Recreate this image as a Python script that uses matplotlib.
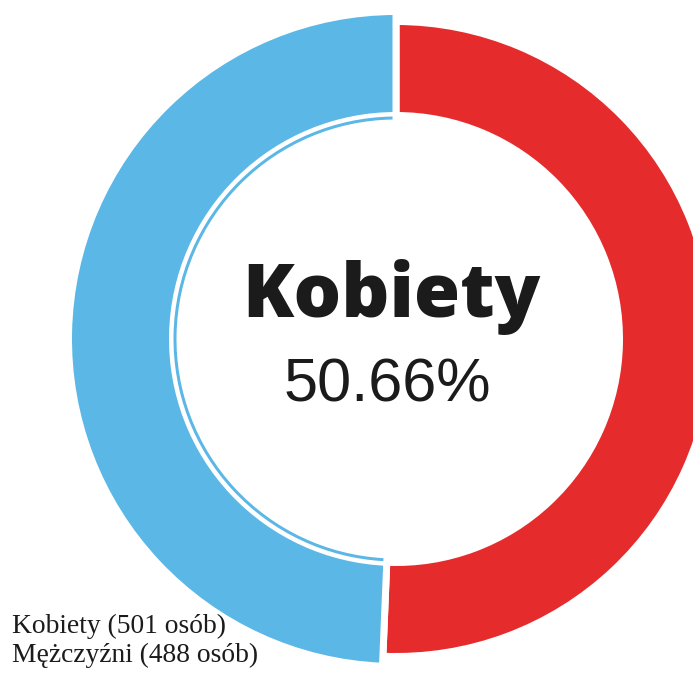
import matplotlib
matplotlib.use('Agg')
import matplotlib.pyplot as plt
from matplotlib.patches import Wedge
import numpy as np

# data
labels = ['Kobiety', 'Mężczyźni']
counts = [501, 488]
colors = ['#e52b2c', '#5bb7e5']
center_label = 'Kobiety'
center_value = '50.66%'

W, H = 693, 681
fig = plt.figure(figsize=(W / 100, H / 100), dpi=100)
ax = fig.add_axes([0, 0, 1, 1])

cx, cy = 396, H - 339
gap = 7  # px white gap between slices

wedges, _ = ax.pie(counts, colors=colors, startangle=90, counterclock=False,
                   center=(cx, cy), radius=314 + gap / 2, frame=True,
                   wedgeprops=dict(width=87 + gap, edgecolor='white', linewidth=gap * 0.72))
ax.set_xlim(0, W)
ax.set_ylim(0, H)
ax.set_aspect('equal')
ax.axis('off')

# blue slice is drawn enlarged (hover state)
blue = wedges[1]
blue.set_radius(324 + gap / 2)
blue.set_width(97 + gap)

# thin inner ring under the enlarged slice
r_thin = 222.5
dth = np.degrees(gap / 2 / r_thin)
ax.add_patch(Wedge((cx, cy), r_thin, blue.theta1 + dth, blue.theta2 - dth,
                   width=3, color=colors[1], lw=0))

ax.text(391, H - 317, center_label, ha='center', va='baseline', fontsize=54,
        fontweight=800, family=['Open Sans', 'DejaVu Sans'], color='#1b1b1b')
ax.text(387, H - 402, center_value, ha='center', va='baseline', fontsize=44,
        family=['Liberation Sans', 'DejaVu Sans'], color='#1b1b1b')

legend_lines = [f'{l} ({c} osób)' for l, c in zip(labels, counts)]
for i, line in enumerate(legend_lines):
    ax.text(12, H - 633 - 29 * i, line, ha='left', va='baseline', fontsize=19.8,
            family=['Liberation Serif', 'DejaVu Serif'], color='#1b1b1b')

fig.savefig('out.png', dpi=100, facecolor='white')
